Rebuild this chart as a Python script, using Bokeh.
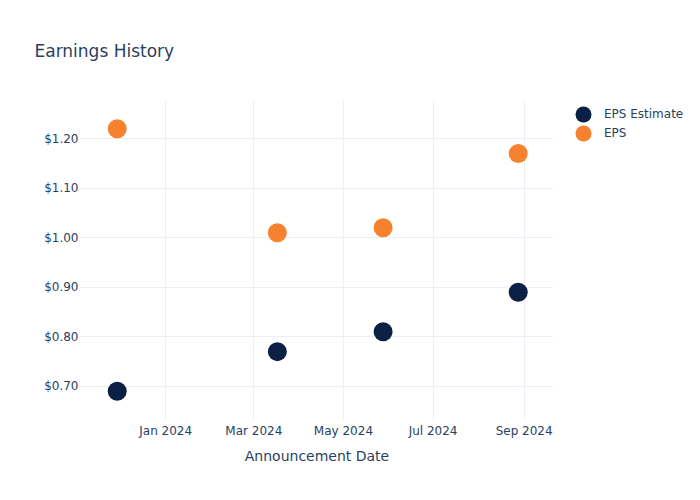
from datetime import datetime
from bokeh.plotting import figure
from bokeh.layouts import row
from bokeh.models import (ColumnDataSource, Legend, LegendItem, Range1d, FixedTicker,
                          DatetimeTickFormatter, NumeralTickFormatter, Title)
from bokeh.embed import file_html
from bokeh.resources import INLINE

# ---- data ----
announcement_dates = ["2023-11-29", "2024-03-17", "2024-05-28", "2024-08-28"]
eps_estimate = [0.69, 0.77, 0.81, 0.89]
eps_actual = [1.22, 1.01, 1.02, 1.17]
x_tick_dates = ["2024-01-01", "2024-03-01", "2024-05-01", "2024-07-01", "2024-09-01"]
y_ticks = [0.70, 0.80, 0.90, 1.00, 1.10, 1.20]
series_names = ["EPS Estimate", "EPS"]

def to_dt(s):
    return datetime.strptime(s, "%Y-%m-%d")

def to_ms(s):
    return (to_dt(s) - datetime(1970, 1, 1)).total_seconds() * 1000.0

dates = [to_dt(d) for d in announcement_dates]
src = ColumnDataSource(dict(date=dates, est=eps_estimate, eps=eps_actual))

FONT = "DejaVu Sans"
TXT = "#2a3f5f"
GRID = "#ebf0f8"
NAVY = "#0c1f44"
ORANGE = "#f6812f"

p = figure(width=553, height=500, output_backend="svg", toolbar_location=None,
           x_axis_type="datetime",
           min_border_left=80, min_border_right=0, min_border_top=100, min_border_bottom=80,
           x_range=Range1d(to_dt("2023-11-04"), to_dt("2024-09-21")),
           y_range=Range1d(0.631, 1.277))
p.outline_line_color = None
p.background_fill_color = "white"
p.border_fill_color = "white"

r_est = p.scatter("date", "est", source=src, size=19, color=NAVY, line_color=None)
r_eps = p.scatter("date", "eps", source=src, size=19, color=ORANGE, line_color=None)

# axes
p.xaxis.ticker = FixedTicker(ticks=[to_ms(d) for d in x_tick_dates])
p.xaxis.formatter = DatetimeTickFormatter(days="%b %Y", months="%b %Y", years="%b %Y")
p.yaxis.ticker = FixedTicker(ticks=y_ticks)
p.yaxis.formatter = NumeralTickFormatter(format="$0.00")
for ax in (p.xaxis[0], p.yaxis[0]):
    ax.axis_line_color = None
    ax.major_tick_line_color = None
    ax.minor_tick_line_color = None
    ax.major_tick_out = 0
    ax.major_tick_in = 0
    ax.minor_tick_out = 0
    ax.major_label_text_font = FONT
    ax.major_label_text_font_size = "12px"
    ax.major_label_text_color = TXT
p.xaxis.major_label_standoff = 3
p.yaxis.major_label_standoff = 2
p.xaxis.axis_label = "Announcement Date"
p.xaxis.axis_label_text_font = FONT
p.xaxis.axis_label_text_font_size = "14px"
p.xaxis.axis_label_text_font_style = "normal"
p.xaxis.axis_label_text_color = TXT
p.xaxis.axis_label_standoff = 7

p.xgrid.grid_line_color = GRID
p.ygrid.grid_line_color = GRID
p.xgrid.grid_line_width = 1
p.ygrid.grid_line_width = 1

# title
p.title = Title(text="Earnings History", text_font=FONT, text_font_size="17px",
                text_font_style="normal", text_color=TXT, align="left", offset=-46,
                standoff=75, vertical_align="top")

# legend panel (separate small figure to the right; its frame aligns with p's frame)
lg = figure(width=147, height=500, output_backend="svg", toolbar_location=None,
            x_axis_location=None, y_axis_location=None,
            min_border_left=0, min_border_right=0, min_border_top=0, min_border_bottom=0,
            x_range=Range1d(0, 1), y_range=Range1d(0, 1))
lg.outline_line_color = None
lg.grid.visible = False
lg.border_fill_color = "white"
lg.background_fill_color = "white"
# same data, but outside this panel's view: only used for the legend glyphs
d_est = lg.scatter("date", "est", source=src, size=19, color=NAVY, line_color=None)
d_eps = lg.scatter("date", "eps", source=src, size=19, color=ORANGE, line_color=None)

for name, rend, loc in [(series_names[0], d_est, (10, 286)), (series_names[1], d_eps, (10, 267))]:
    leg = Legend(items=[LegendItem(label=name, renderers=[rend])],
                 location=loc, glyph_width=40, glyph_height=40,
                 label_text_font=FONT, label_text_font_size="12px", label_text_color=TXT,
                 label_standoff=1, padding=0, margin=0,
                 border_line_color=None, background_fill_alpha=0)
    lg.add_layout(leg, "center")

layout = row(p, lg)
open("out.html", "w").write(file_html(layout, INLINE))
